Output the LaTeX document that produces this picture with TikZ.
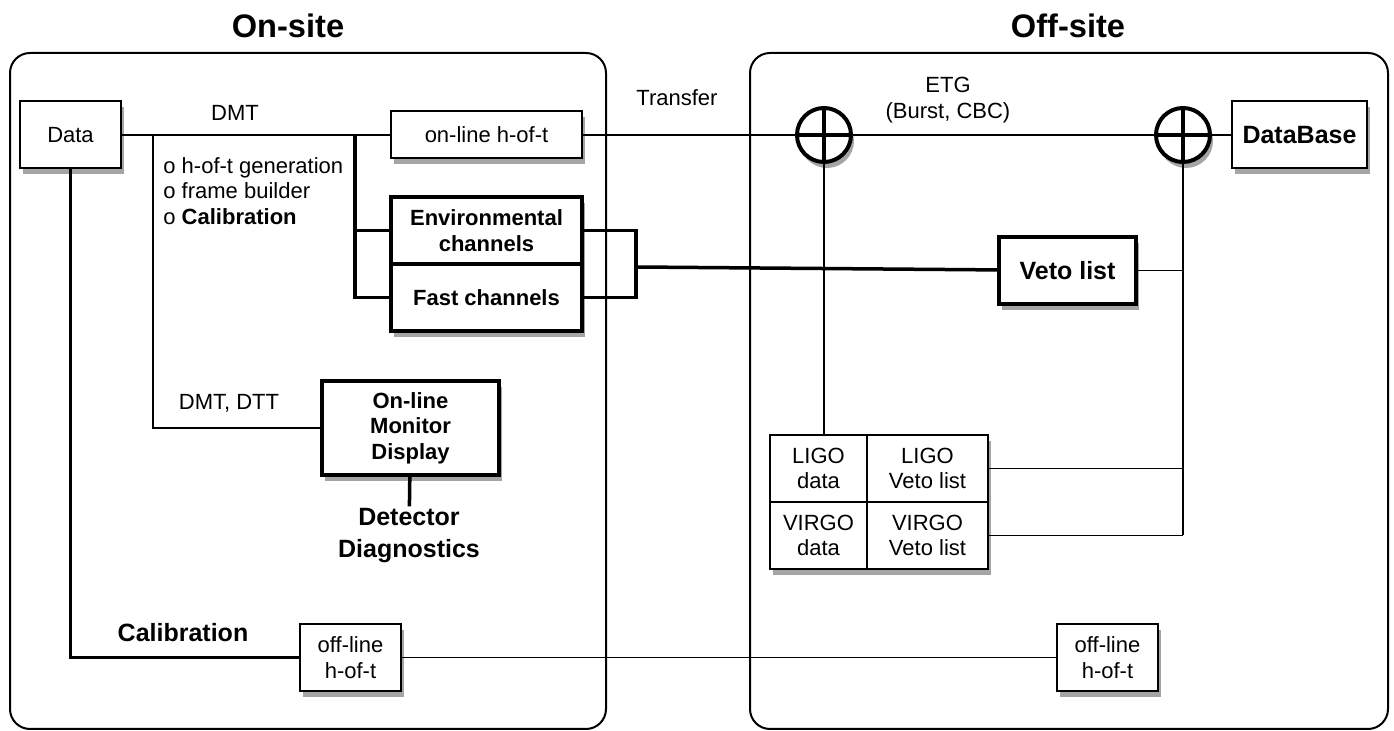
\documentclass[tikz,border=0pt]{standalone}
\usepackage{fontspec}
\setmainfont{Liberation Sans}
\usetikzlibrary{positioning,shadows}
\newcommand\normsize{\fontsize{11}{12.8}\selectfont}
\newcommand\bigsize{\fontsize{12.5}{16}\selectfont}
\tikzset{
  shade/.style={drop shadow={shadow xshift=1.5pt,shadow yshift=-3pt,opacity=.5,fill=black!70}},
  box/.style={draw,line width=1pt,fill=white,align=center,inner sep=1pt,font=\normsize,shade},
  boldbox/.style={box,line width=2pt,font=\normsize\bfseries},
  bigbox/.style={box,line width=2pt,font=\bigsize\bfseries},
  panel/.style={draw,line width=1pt,rounded corners=10pt},
  title/.style={font=\fontsize{16.3}{18}\selectfont\bfseries},
  lbl/.style={font=\normsize,align=center,inner sep=1pt},
  link/.style={line width=.75pt},
  trunk/.style={line width=1.75pt},
  etg/.style={circle,draw,line width=2pt,fill=white,minimum size=27pt,inner sep=0pt,shade,
    path picture={\draw[line width=1.6pt] (path picture bounding box.north)--(path picture bounding box.south)
      (path picture bounding box.west)--(path picture bounding box.east);}},
}
\begin{document}
\begin{tikzpicture}[x=.5pt,y=-.5pt]
  \useasboundingbox (0,0) rectangle (1394,731);
  % panels
  \draw[panel] (10,53) rectangle (606,729);
  \draw[panel] (750,53) rectangle (1388,729);
  \node[title] (onsite) at (288,26) {On-site};
  \node[title] (offsite) at (1068,26) {Off-site};
  % on-site
  \node[box,minimum width=50.5pt,minimum height=33.5pt] (data) at (70.5,135) {Data};
  \node[box,minimum width=95.5pt,minimum height=23.5pt] (online) at (486.5,135) {on-line h-of-t};
  \node[boldbox,minimum width=95.5pt,minimum height=33.5pt] (env) at (486.5,230.5) {Environmental\\channels};
  \node[boldbox,minimum width=95.5pt,minimum height=33.5pt] (fast) at (486.5,297.5) {Fast channels};
  \node[boldbox,minimum width=88.5pt,minimum height=47pt] (mon) at (410.5,428) {On-line\\Monitor\\Display};
  \node[font=\bigsize\bfseries,align=center,inner sep=1pt] (diag) at (409,536) {Detector\\Diagnostics};
  \node[box,minimum width=50.5pt,minimum height=33.5pt] (off1) at (350.5,657.5) {off-line\\h-of-t};
  \node[lbl] (dmtlbl) at (235,113) {DMT};
  \node[lbl,anchor=west,align=left,inner sep=0pt] (list) at (163,191) {o h-of-t generation\\o frame builder\\o \textbf{Calibration}};
  \node[lbl] (tools) at (229,403) {DMT, DTT};
  \node[font=\bigsize\bfseries] (calib) at (183,633) {Calibration};
  \coordinate (b1) at (153,135);
  \coordinate (b2) at (355,135);
  \coordinate (br) at (636,267);
  % off-site
  \node[lbl] (transfer) at (677,98) {Transfer};
  \node[lbl] (etglbl) at (948,100) {ETG\\(Burst, CBC)};
  \node[etg] (etg1) at (824,135) {};
  \node[etg] (etg2) at (1183,135) {};
  \node[bigbox,line width=1pt,minimum width=67.5pt,minimum height=33.5pt] (db) at (1299.5,135) {DataBase};
  \node[bigbox,minimum width=68.5pt,minimum height=33.5pt] (veto) at (1067.5,270.5) {Veto list};
  \node[box,minimum width=48.5pt,minimum height=33.5pt] (ld) at (818.5,468.5) {LIGO\\data};
  \node[box,minimum width=60.5pt,minimum height=33.5pt] (lv) at (927.5,468.5) {LIGO\\Veto list};
  \node[box,minimum width=48.5pt,minimum height=33.5pt] (vd) at (818.5,535.5) {VIRGO\\data};
  \node[box,minimum width=60.5pt,minimum height=33.5pt] (vv) at (927.5,535.5) {VIRGO\\Veto list};
  \node[box,minimum width=50.5pt,minimum height=33.5pt] (off2) at (1107.5,657.5) {off-line\\h-of-t};
  % connections
  \draw[link] (data) -- (online);
  \draw[link] (online) -- (etg1) -- (etg2) -- (db);
  \draw[link] (b1) |- (mon);
  \draw[trunk] (b2) |- (fast);
  \draw[trunk] (env.west -| b2) -- (env);
  \draw[trunk] (env.east) -- (env.east -| br) |- (fast.east);
  \draw[trunk] (br) -- (veto);
  \draw[trunk] (mon) -- (diag);
  \draw[trunk] (data) |- (off1);
  \draw[link] (off1) -- (off2);
  \draw[link] (etg1) -- (etg1 |- ld.north);
  \draw[link] (etg2) -- (etg2 |- vv.east);
  \draw[link] (veto) -- (veto -| etg2);
  \draw[link] (lv) -- (lv -| etg2);
  \draw[link] (vv) -- (vv -| etg2);
\end{tikzpicture}
\end{document}
